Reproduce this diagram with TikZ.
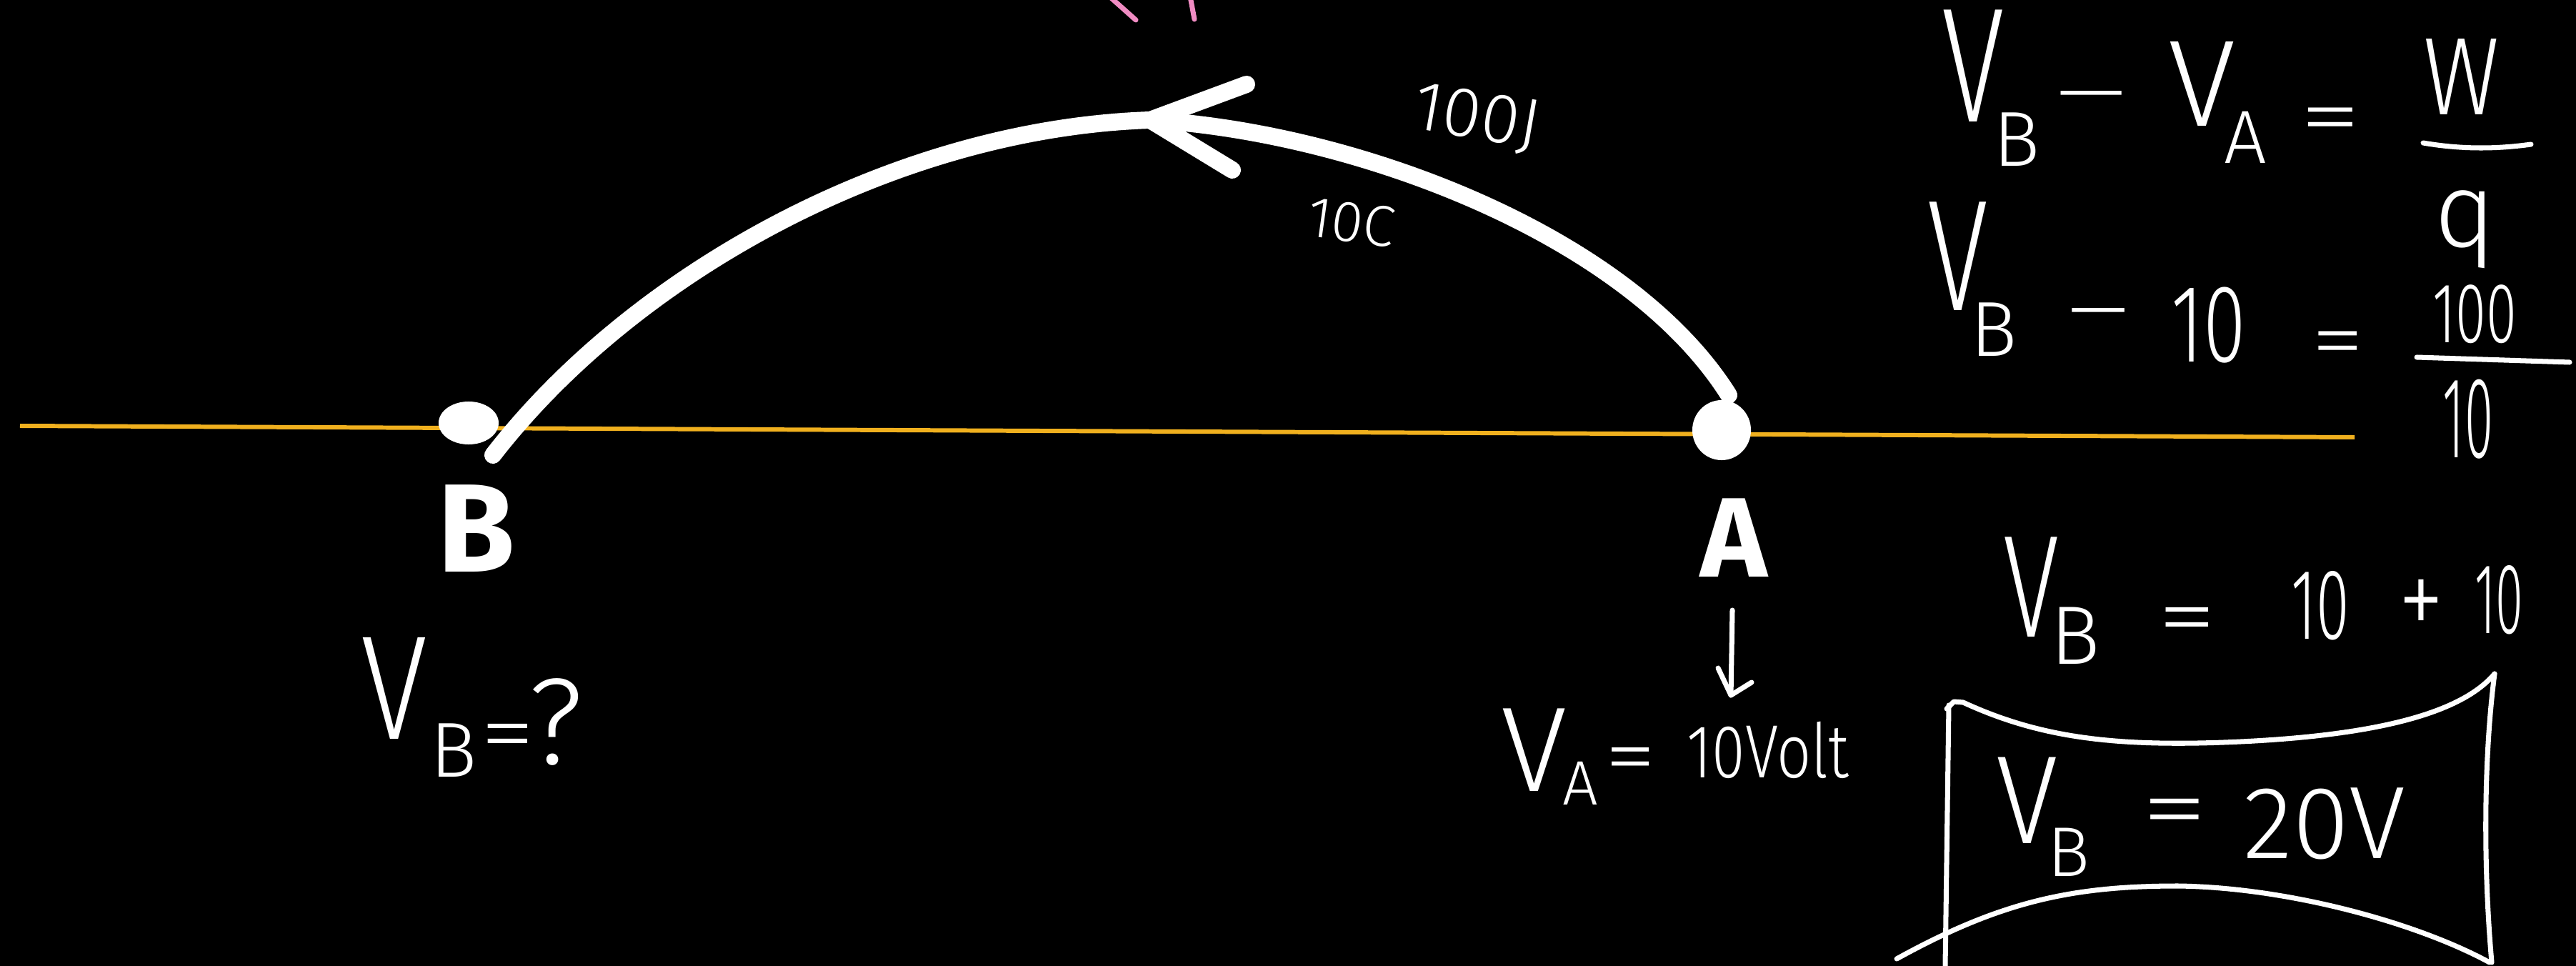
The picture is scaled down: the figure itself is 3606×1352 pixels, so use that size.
\documentclass[tikz,border=0pt]{standalone}
\usepackage{fontspec}
\newfontfamily\hand{Fira Sans Light}
\newfontfamily\handbold{Fira Sans Bold}
\usetikzlibrary{shapes.geometric}
\definecolor{rulecol}{RGB}{240,176,30}
\definecolor{pinkmark}{RGB}{240,140,195}
\newcommand\fsz[1]{\fontsize{#1}{#1}\selectfont}
\newcommand\nx[2]{\scalebox{#1}[1]{#2}}
\begin{document}
\begin{tikzpicture}[x=0.01cm,y=-0.01cm,
  hw/.style={text=white,inner sep=0pt,font={\hand\fsz{#1}}},
  hb/.style={text=white,inner sep=0pt,font={\handbold\fsz{#1}}},
  ink/.style={draw=white,line width=2pt,line cap=round,line join=round},
  thick ink/.style={draw=white,line width=2.4mm,line cap=round,line join=round},
  dotstyle/.style={fill=white,draw=none,inner sep=0pt}]
\fill[black] (0,0) rectangle (3606,1352);
\useasboundingbox (0,0) rectangle (3606,1352);

% pink marks at the top
\draw[pinkmark,line width=0.7mm,line cap=round] (1553,-5) -- (1590,28);
\draw[pinkmark,line width=0.7mm,line cap=round] (1666,-5) -- (1672,27);

% horizontal line
\coordinate (ruleL) at (28,596);
\coordinate (ruleR) at (3296,612);
\draw[rulecol,line width=1.7pt] (ruleL) -- (ruleR);

% points
\node[dotstyle,ellipse,minimum width=0.84cm,minimum height=0.6cm] (dotB) at (656,592) {};
\node[dotstyle,ellipse,minimum width=0.82cm,minimum height=0.84cm] (dotA) at (2410,602) {};

% curved path from A to B
\coordinate (arcB) at (690,637);
\coordinate (arcA) at (2420,553);
\coordinate (tip) at (1610,168);
\draw[thick ink] (arcB) .. controls (885,385) and (1250,180) .. (tip)
                 .. controls (1900,185) and (2280,330) .. (arcA);
\draw[thick ink] (1745,118) -- (tip) -- (1725,238);

% labels on the path
\node[hw=28,rotate=-10] (lab100J) at (2067,166) {100J};
\node[hw=23,rotate=-8] (lab10C) at (1892,311) {10C};

% point letters
\node[hb=50] (labB) at (667,740) {B};
\node[hb=45] (labA) at (2427,753) {A};

% V_B = ?
\node[hw=59] (lVB) at (552,963) {\nx{0.82}{V}};
\node[hw=31] (lVBsub) at (635,1050) {B};
\node[hw=34] (lVBeq) at (711,1040) {\nx{1.3}{=}};
\node[hw=49] (lVBq) at (778,1010) {?};

% arrow below A and V_A = 10Volt
\coordinate (arrS) at (2425,854);
\coordinate (arrE) at (2423,973);
\draw[ink] (arrS) -- (arrE);
\draw[ink] (arrE) ++(-18,-38) -- (arrE) -- ++(29,-18);
\node[hw=48] (aV) at (2148,1050) {V};
\node[hw=25] (aVsub) at (2212,1096) {A};
\node[hw=32] (aEq) at (2283,1072) {\nx{1.3}{=}};
\node[hw=30] (aVal) at (2475,1050) {\nx{0.8}{10Volt}};

% equation 1
\node[hw=65] (e1V) at (2762,92) {\nx{0.7}{V}};
\node[hw=31] (e1Vs) at (2823,195) {B};
\node[hw=31] (e1m) at (2928,147) {\nx{2.2}{−}};
\node[hw=49] (e1VA) at (3082,117) {V};
\node[hw=30] (e1VAs) at (3143,192) {A};
\node[hw=33] (e1eq) at (3262,177) {\nx{1.5}{=}};
\node[hw=44] (e1W) at (3446,108) {\nx{0.85}{W}};
\draw[ink] (3392,200) .. controls (3450,210) and (3500,208) .. (3543,202);
\node[hw=42] (e1q) at (3451,321) {q};

% equation 2
\node[hw=63] (e2V) at (2741,359) {\nx{0.7}{V}};
\node[hw=31] (e2Vs) at (2791,461) {B};
\node[hw=31] (e2m) at (2938,451) {\nx{1.9}{−}};
\node[hw=44] (e2ten) at (3092,455) {\nx{0.7}{10}};
\node[hw=33] (e2eq) at (3273,490) {\nx{1.3}{=}};
\node[hw=34] (e2num) at (3464,440) {\nx{0.65}{100}};
\draw[ink] (3383,500) -- (3597,507);
\node[hw=46] (e2den) at (3455,587) {\nx{0.45}{10}};

% equation 3
\node[hw=58] (e3V) at (2843,822) {\nx{0.7}{V}};
\node[hw=33] (e3Vs) at (2905,890) {B};
\node[hw=34] (e3eq) at (3062,877) {\nx{1.4}{=}};
\node[hw=40] (e3a) at (3248,848) {\nx{0.6}{10}};
\node[hw=46] (e3p) at (3389,852) {\nx{0.8}{+}};
\node[hw=40] (e3b) at (3498,840) {\nx{0.5}{10}};

% boxed result
\node[hw=50] (e4V) at (2838,1120) {\nx{0.9}{V}};
\node[hw=28] (e4Vs) at (2896,1193) {B};
\node[hw=36] (e4eq) at (3044,1146) {\nx{1.5}{=}};
\node[hw=41] (e4val) at (3254,1153) {20V};
\draw[ink] (2725,992) -- (2735,982) -- (2748,983) .. controls (2850,1030) and (2950,1045) .. (3113,1039) .. controls (3300,1032) and (3440,1005) .. (3492,943);
\draw[ink] (3492,943) .. controls (3478,1050) and (3475,1200) .. (3488,1347);
\draw[ink] (2655,1342) .. controls (2800,1262) and (2900,1240) .. (3049,1240) .. controls (3200,1242) and (3380,1290) .. (3485,1347);
\draw[ink] (2728,987) -- (2723,1352);
\end{tikzpicture}
\end{document}
